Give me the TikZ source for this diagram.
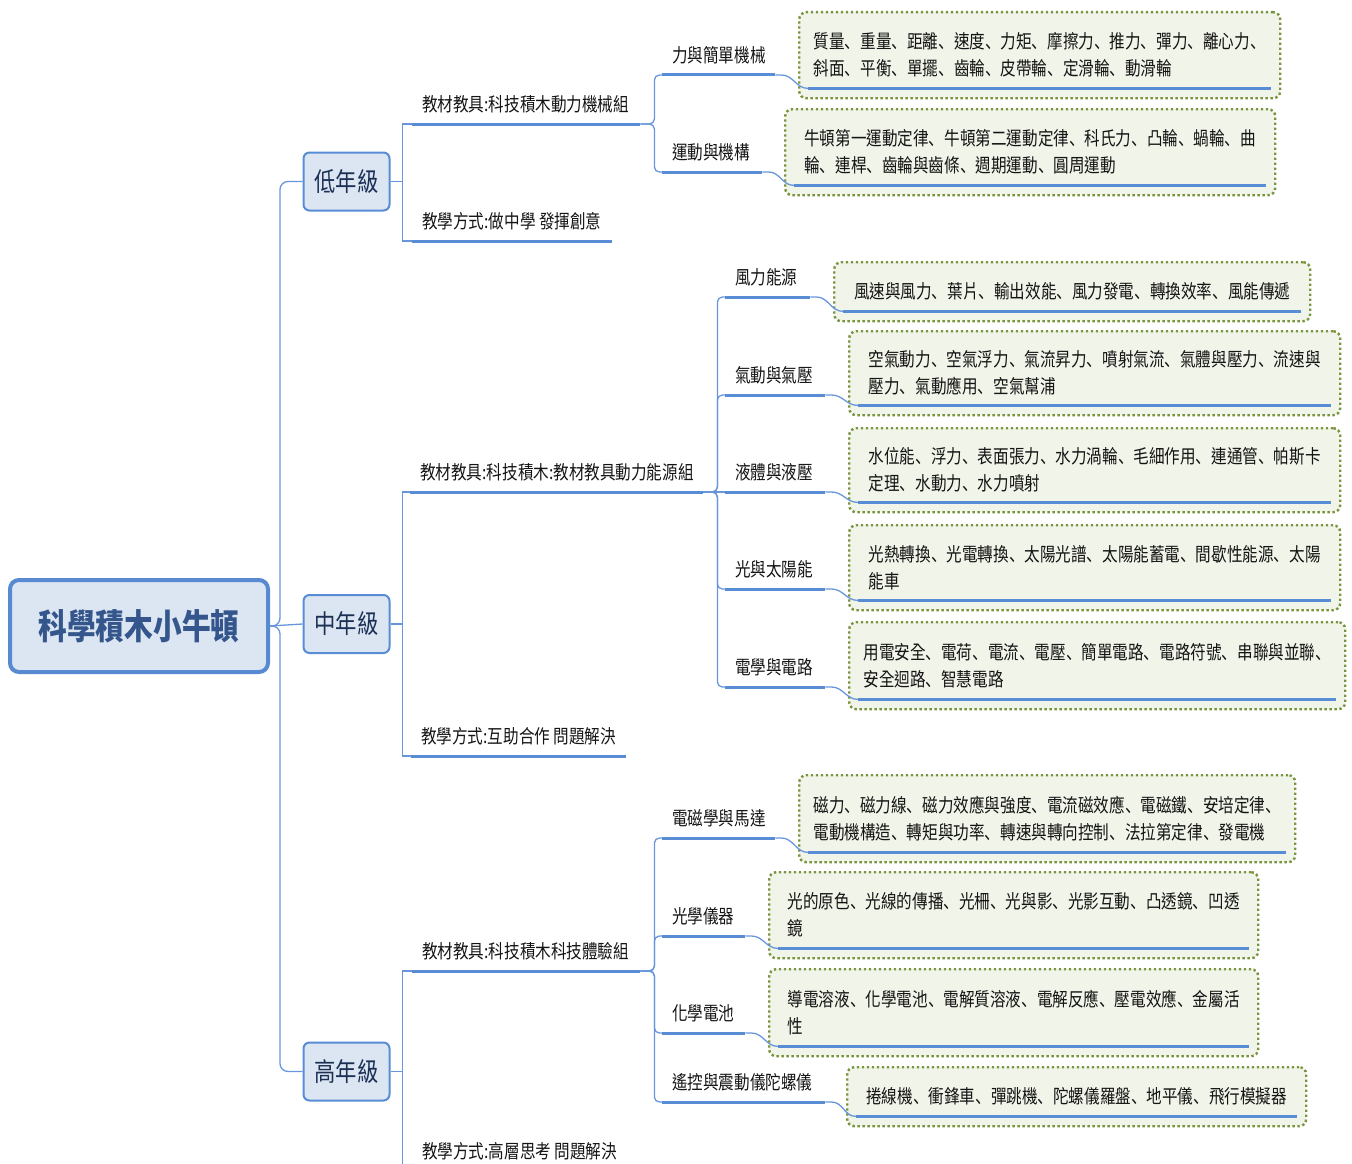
\documentclass[tikz,border=0pt]{standalone}
\usepackage{fontspec}
\newfontfamily\cjk[FakeStretch=0.82]{Noto Sans CJK TC}
\newfontfamily\cjksc[FakeStretch=0.82]{Noto Sans CJK SC}
\catcode`、=\active
\def、{{\cjksc\char"3001}}
\definecolor{ulc}{RGB}{88,141,214}
\definecolor{linec}{RGB}{104,150,220}
\definecolor{boxfill}{RGB}{220,230,242}
\definecolor{rootbd}{RGB}{88,138,210}
\definecolor{roottext}{RGB}{52,86,140}
\definecolor{gradetext}{RGB}{28,48,86}
\definecolor{textc}{RGB}{20,20,20}
\definecolor{leafbd}{RGB}{120,148,62}
\definecolor{leaffill}{RGB}{241,244,233}
\newcommand\labtxt[2]{\makebox[#1pt][l]{\hspace{10pt}#2}}
\begin{document}
\begin{tikzpicture}[x=1pt,y=-1pt,
  conn/.style={draw=linec, line width=1.3pt},
  uline/.style={draw=ulc, line width=3pt},
  rootbox/.style={draw=rootbd, line width=4pt, fill=boxfill, rounded corners=9pt,
    minimum width=258pt, minimum height=92pt, inner sep=0pt,
    font=\cjk\bfseries\fontsize{35}{40}\selectfont, text=roottext},
  gradebox/.style={draw=ulc, line width=2pt, fill=boxfill, rounded corners=6pt,
    minimum width=86pt, minimum height=58pt, inner sep=0pt,
    font=\cjk\fontsize{26}{30}\selectfont, text=gradetext},
  lab/.style={anchor=south west, inner sep=0pt, text height=16pt, text depth=12pt,
    font=\cjk\fontsize{19}{22}\selectfont, text=textc},
  leaf/.style={anchor=north west, draw=leafbd, line width=2.4pt,
    dash pattern=on 2.4pt off 2.6pt, fill=leaffill, rounded corners=7pt,
    align=left, inner sep=0pt, font=\cjk\fontsize{19}{27}\selectfont, text=textc}
]
\useasboundingbox (0,0) rectangle (1352,1164);

% root and grades
\node[rootbox] (root) at (139,626) {科學積木小牛頓};
\node[gradebox] (low) at (346.5,181.5) {低年級};
\node[gradebox] (mid) at (346.5,624) {中年級};
\node[gradebox] (high) at (346.5,1071.5) {高年級};

% level 2
\node[lab] (lowA) at (412,124) {\labtxt{228}{教材教具:科技積木動力機械組}};
\node[lab] (lowB) at (412,241) {\labtxt{200}{教學方式:做中學 發揮創意}};
\node[lab] (midA) at (410,492) {\labtxt{293}{教材教具:科技積木:教材教具動力能源組}};
\node[lab] (midB) at (411,756) {\labtxt{215}{教學方式:互助合作 問題解決}};
\node[lab] (highA) at (412,971) {\labtxt{228}{教材教具:科技積木科技體驗組}};
\node[lab] (highB) at (412,1171) {\labtxt{215}{教學方式:高層思考 問題解決}};

% level 3
\node[lab] (mech) at (662,75) {\labtxt{113}{力與簡單機械}};
\node[lab] (move) at (662,172) {\labtxt{100}{運動與機構}};
\node[lab] (wind) at (725,297) {\labtxt{85}{風力能源}};
\node[lab] (air) at (725,395) {\labtxt{100}{氣動與氣壓}};
\node[lab] (fluid) at (725,492) {\labtxt{100}{液體與液壓}};
\node[lab] (solar) at (725,589) {\labtxt{100}{光與太陽能}};
\node[lab] (elec) at (725,687) {\labtxt{100}{電學與電路}};
\node[lab] (magn) at (662,838) {\labtxt{113}{電磁學與馬達}};
\node[lab] (optic) at (662,936) {\labtxt{83}{光學儀器}};
\node[lab] (chem) at (662,1033) {\labtxt{83}{化學電池}};
\node[lab] (remote) at (662,1102) {\labtxt{163}{遙控與震動儀陀螺儀}};

% leaves
\node[leaf, minimum width=481pt, minimum height=86pt] (a1) at (798,11)
  {質量、重量、距離、速度、力矩、摩擦力、推力、彈力、離心力、\\斜面、平衡、單擺、齒輪、皮帶輪、定滑輪、動滑輪};
\node[leaf, minimum width=490pt, minimum height=86pt] (a2) at (784,108)
  {牛頓第一運動定律、牛頓第二運動定律、科氏力、凸輪、蝸輪、曲\\輪、連桿、齒輪與齒條、週期運動、圓周運動};
\node[leaf, minimum width=476pt, minimum height=59pt] (b1) at (833,261)
  {風速與風力、葉片、輸出效能、風力發電、轉換效率、風能傳遞};
\node[leaf, minimum width=491pt, minimum height=84pt] (b2) at (848,330)
  {空氣動力、空氣浮力、氣流昇力、噴射氣流、氣體與壓力、流速與\\壓力、氣動應用、空氣幫浦};
\node[leaf, minimum width=491pt, minimum height=84pt] (b3) at (848,427)
  {水位能、浮力、表面張力、水力渦輪、毛細作用、連通管、帕斯卡\\定理、水動力、水力噴射};
\node[leaf, minimum width=491pt, minimum height=85pt] (b4) at (848,524)
  {光熱轉換、光電轉換、太陽光譜、太陽能蓄電、間歇性能源、太陽\\能車};
\node[leaf, minimum width=496pt, minimum height=87pt] (b5) at (848,621)
  {用電安全、電荷、電流、電壓、簡單電路、電路符號、串聯與並聯、\\安全迴路、智慧電路};
\node[leaf, minimum width=496pt, minimum height=87pt] (c1) at (798,774)
  {磁力、磁力線、磁力效應與強度、電流磁效應、電磁鐵、安培定律、\\電動機構造、轉矩與功率、轉速與轉向控制、法拉第定律、發電機};
\node[leaf, minimum width=489pt, minimum height=86pt] (c2) at (768,871)
  {光的原色、光線的傳播、光柵、光與影、光影互動、凸透鏡、凹透\\鏡};
\node[leaf, minimum width=489pt, minimum height=87pt] (c3) at (768,968)
  {導電溶液、化學電池、電解質溶液、電解反應、壓電效應、金屬活\\性};
\node[leaf, minimum width=459pt, minimum height=59pt] (c4) at (846,1066)
  {捲線機、衝鋒車、彈跳機、陀螺儀羅盤、地平儀、飛行模擬器};

% underlines of leaves
\foreach \n in {a1,a2,b1,b2,b3,b4,b5,c1,c2,c3,c4}{
  \coordinate (\n u) at ([shift={(10,-11)}]\n.south west);
  \coordinate (\n v) at ([shift={(-10,-11)}]\n.south east);
  \draw[uline] (\n u) -- (\n v);
}

% underlines of labels
\foreach \n in {lowA,lowB,midA,midB,highA,highB,mech,move,wind,air,fluid,solar,elec,magn,optic,chem,remote}{
  \draw[uline] (\n.south west) -- (\n.south east);
}

% root to grades
\draw[conn, rounded corners=8pt] (root.east) -- ++(10,0) |- (low.west);
\draw[conn, rounded corners=8pt] (root.east) -- ++(10,0) |- (high.west);
\draw[conn] (root.east) -- (mid.west);

% grades to level 2
\foreach \g/\c in {low/lowA,low/lowB,mid/midA,mid/midB,high/highA,high/highB}{
  \draw[conn] (\g.east) -- ++(12,0) |- (\c.south west);
}

% level 2 to level 3
\foreach \p/\c in {lowA/mech,lowA/move,midA/wind,midA/air,midA/solar,midA/elec,highA/magn,highA/optic,highA/chem,highA/remote}{
  \draw[conn, rounded corners=5pt] (\p.south east) -- ++(14,0) |- (\c.south west);
}
\draw[conn] (midA.south east) -- (fluid.south west);

% level 3 to leaves
\foreach \p/\c in {mech/a1,move/a2,wind/b1,air/b2,fluid/b3,solar/b4,elec/b5,magn/c1,optic/c2,chem/c3,remote/c4}{
  \draw[conn] (\p.south east) -- ++(6,0) .. controls +(12,0) and +(-12,0) .. (\c u);
}
\end{tikzpicture}
\end{document}
